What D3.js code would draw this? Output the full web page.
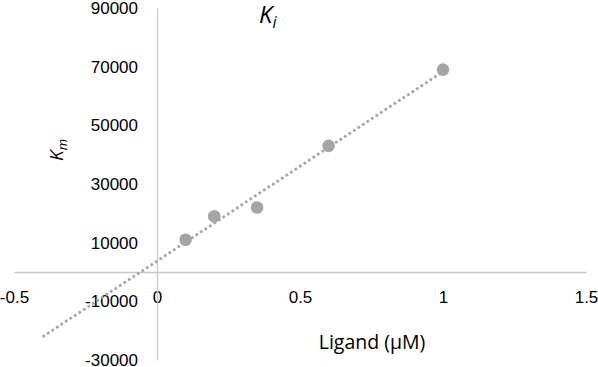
<!DOCTYPE html>
<html>
<head>
<meta charset="utf-8">
<script src="https://cdn.jsdelivr.net/npm/d3@7"></script>
<style>
  body { margin: 0; background: #fff; }
  svg { display: block; font-family: "Open Sans", sans-serif; }
  .axis text { fill: #000; font-size: 17px; }
</style>
</head>
<body>
<svg width="598" height="367"></svg>
<script>
// data
const ligand = [0.1, 0.2, 0.35, 0.6, 1.0];
const km = [11000, 19000, 22000, 43000, 69000];
const xTicks = [-0.5, 0, 0.5, 1, 1.5];
const yTicks = [-30000, -10000, 10000, 30000, 50000, 70000, 90000];
const trendFrom = -0.4; // backward forecast of the linear trendline

const svg = d3.select("svg"),
      margin = {top: 8, right: 12, bottom: 7, left: 14},
      width = +svg.attr("width") - margin.left - margin.right,
      height = +svg.attr("height") - margin.top - margin.bottom;

const g = svg.append("g").attr("transform", `translate(${margin.left},${margin.top})`);

const x = d3.scaleLinear().domain([-0.5, 1.5]).range([0, width]);
const y = d3.scaleLinear().domain([-30000, 90000]).range([height, 0]);

// plain hyphen for negatives, like the original
const fmt = d => String(d);

// x axis sits on y = 0
const xAxis = g.append("g")
  .attr("class", "axis")
  .attr("transform", `translate(0,${y(0)})`)
  .call(d3.axisBottom(x).tickValues(xTicks).tickFormat(fmt).tickSize(0).tickSizeOuter(0).tickPadding(19));

// y axis sits on x = 0
const yAxis = g.append("g")
  .attr("class", "axis")
  .attr("transform", `translate(${x(0)},0)`)
  .call(d3.axisLeft(y).tickValues(yTicks).tickFormat(fmt).tickSize(0).tickSizeOuter(0).tickPadding(19));

[xAxis, yAxis].forEach(a => a.select(".domain").attr("stroke", "#c8c8c8").attr("stroke-width", 1.3));

// linear least-squares trendline
const mx = d3.mean(ligand), my = d3.mean(km);
const slope = d3.sum(ligand, (v, i) => (v - mx) * (km[i] - my)) / d3.sum(ligand, v => (v - mx) ** 2);
const icpt = my - slope * mx;
const trend = [trendFrom, d3.max(ligand)].map(v => [v, icpt + slope * v]);

g.append("path")
  .datum(trend)
  .attr("d", d3.line().x(d => x(d[0])).y(d => y(d[1])))
  .attr("fill", "none")
  .attr("stroke", "#a5a5a5")
  .attr("stroke-width", 2.7)
  .attr("stroke-dasharray", "2.7,2.7");

g.append("g")
  .selectAll("circle")
  .data(ligand.map((v, i) => [v, km[i]]))
  .join("circle")
    .attr("cx", d => x(d[0]))
    .attr("cy", d => y(d[1]))
    .attr("r", 6.3)
    .attr("fill", "#a5a5a5");

// title K_i
const title = svg.append("text")
  .attr("x", 259)
  .attr("y", 23)
  .style("font-size", "24px")
  .style("font-style", "italic")
  .attr("fill", "#000");
title.append("tspan").text("K");
title.append("tspan").attr("dy", 5).style("font-size", "16px").text("i");

// y label K_m
const ylab = svg.append("text")
  .attr("transform", "translate(63,161) rotate(-90)")
  .style("font-size", "19px")
  .style("font-style", "italic")
  .attr("fill", "#000");
ylab.append("tspan").text("K");
ylab.append("tspan").attr("dy", 4).style("font-size", "13px").text("m");

svg.append("text")
  .attr("x", 372)
  .attr("y", 349)
  .attr("text-anchor", "middle")
  .style("font-size", "19.5px")
  .attr("fill", "#000")
  .text("Ligand (µM)");
</script>
</body>
</html>
